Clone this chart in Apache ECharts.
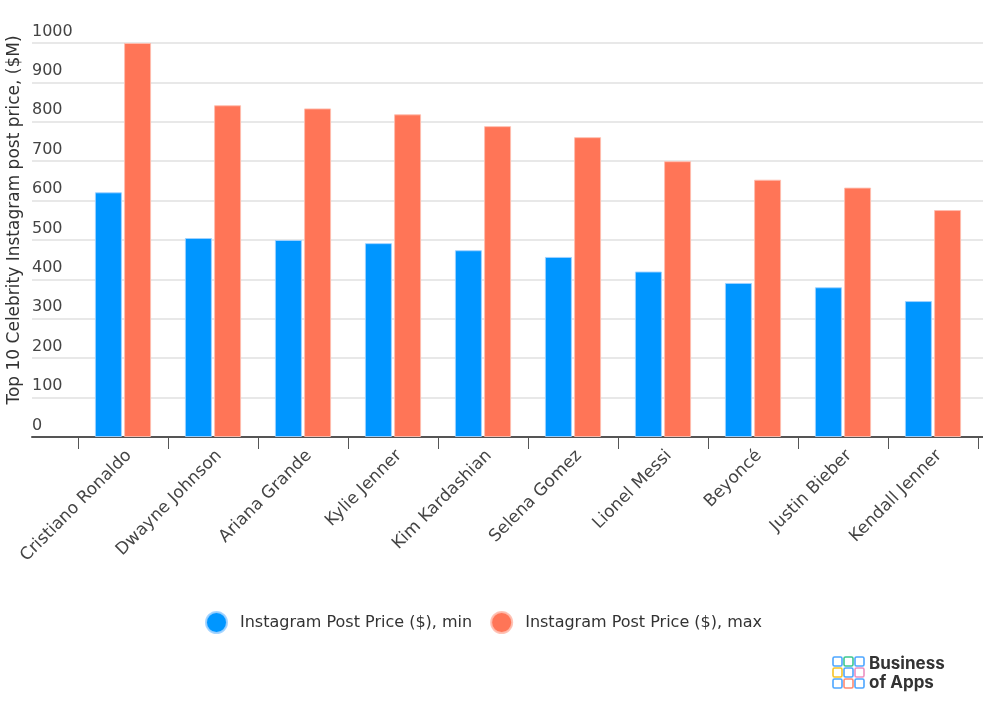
<!DOCTYPE html>
<html>
<head>
<meta charset="utf-8">
<script src="https://cdn.jsdelivr.net/npm/echarts@6/dist/echarts.min.js"></script>
<style>html,body{margin:0;padding:0;background:#fff;}#c{width:983px;height:708px;}</style>
</head>
<body>
<div id="c"></div>
<script>
var categories = ['Cristiano Ronaldo','Dwayne Johnson','Ariana Grande','Kylie Jenner','Kim Kardashian','Selena Gomez','Lionel Messi','Beyoncé','Justin Bieber','Kendall Jenner'];
var minValues = [621, 505, 500, 492, 474, 457, 420, 391, 380, 345];
var maxValues = [1000, 842, 834, 819, 789, 761, 700, 653, 633, 576];
var seriesNames = ['Instagram Post Price ($), min', 'Instagram Post Price ($), max'];
var yAxisName = 'Top 10 Celebrity Instagram post price, ($M)';
var FONT = '"DejaVu Sans", sans-serif';
var LOGOFONT = 'Inter, "Noto Sans", sans-serif';

var chart = echarts.init(document.getElementById('c'), null, {renderer: 'canvas'});

var logoColors = ['#4da6ff','#3dc88f','#4da6ff','#f7c325','#4da6ff','#ec8fc0','#4da6ff','#ff8a70','#4da6ff'];
var logoRects = logoColors.map(function (c, i) {
  return {
    type: 'rect',
    shape: {x: 833 + (i % 3) * 11, y: 657 + Math.floor(i / 3) * 11, width: 9, height: 9, r: 1.5},
    style: {fill: 'none', stroke: c, lineWidth: 1.6}
  };
});

chart.setOption({
  animation: false,
  backgroundColor: '#fff',
  textStyle: {fontFamily: FONT},
  grid: [
    {left: 32, right: 0, top: 43, bottom: 271},
    {left: 78, right: 5, top: 43, bottom: 271}
  ],
  xAxis: [
    {
      gridIndex: 0, type: 'value', min: 0, max: 1,
      axisLine: {show: true, lineStyle: {color: '#555', width: 2}},
      axisTick: {show: false}, axisLabel: {show: false}, splitLine: {show: false}
    },
    {
      gridIndex: 1, type: 'category', data: categories,
      axisLine: {show: false},
      axisTick: {show: true, length: 12, lineStyle: {color: '#555', width: 1}},
      axisLabel: {rotate: 45, fontSize: 17, color: '#444', margin: 10, verticalAlign: 'top', fontFamily: FONT, interval: 0}
    }
  ],
  yAxis: [
    {
      gridIndex: 0, type: 'value', min: 0, max: 1000, interval: 100,
      axisLine: {show: false}, axisTick: {show: false},
      splitLine: {show: true, lineStyle: {color: '#e0e0e0', width: 1.5}},
      axisLabel: {inside: true, margin: 0, align: 'left', verticalAlign: 'bottom', fontSize: 16, color: '#444', fontFamily: FONT, lineHeight: 17, padding: [0, 0, 3, 0],
        formatter: function (v) { return String(v); }}
    },
    {
      gridIndex: 1, type: 'value', min: 0, max: 1000, interval: 100, show: false
    }
  ],
  legend: {
    left: 200, top: 606,
    icon: 'circle', itemWidth: 21, itemHeight: 21, itemGap: 18,
    textStyle: {fontSize: 16, color: '#333', fontFamily: FONT, padding: [0, 0, 0, 8]},
    data: seriesNames
  },
  series: [
    {
      name: seriesNames[0], type: 'bar', xAxisIndex: 1, yAxisIndex: 1,
      data: minValues, barWidth: 27, barGap: '8%',
      itemStyle: {color: '#0096ff', borderColor: 'rgba(160,210,255,0.9)', borderWidth: 1}
    },
    {
      name: seriesNames[1], type: 'bar', xAxisIndex: 1, yAxisIndex: 1,
      data: maxValues, barWidth: 27, barGap: '8%',
      itemStyle: {color: '#ff7557', borderColor: 'rgba(255,190,175,0.9)', borderWidth: 1}
    }
  ],
  graphic: [
    {
      type: 'text', x: 15, y: 220, rotation: Math.PI / 2,
      style: {text: yAxisName, fontSize: 17, fill: '#333', fontFamily: FONT, align: 'center', verticalAlign: 'middle'}
    },
    {type: 'group', children: logoRects},
    {type: 'text', x: 869, y: 655, style: {text: 'Business', fontSize: 17, fontWeight: 'bold', fill: '#333', fontFamily: LOGOFONT}},
    {type: 'text', x: 869, y: 674, style: {text: 'of Apps', fontSize: 17, fontWeight: 'bold', fill: '#333', fontFamily: LOGOFONT}}
  ]
});
</script>
</body>
</html>
